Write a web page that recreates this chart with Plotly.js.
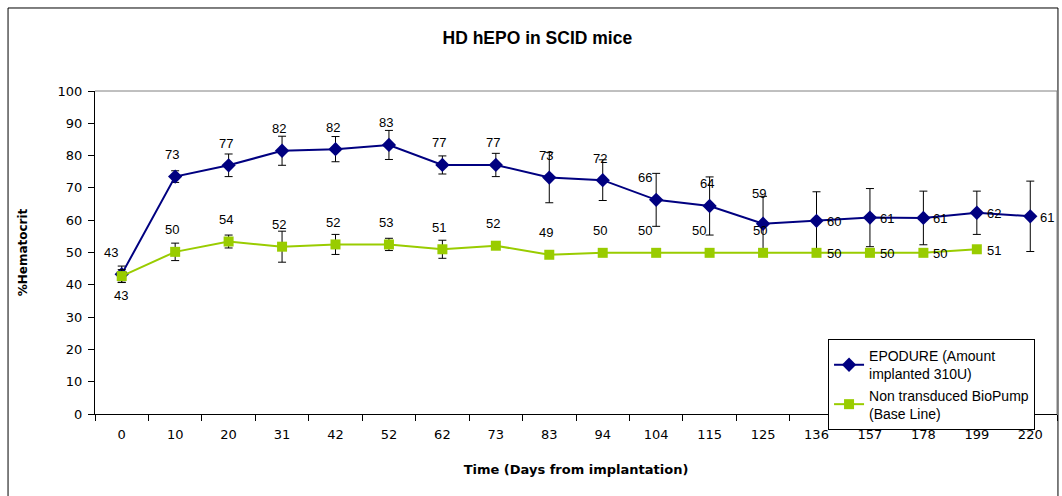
<!DOCTYPE html>
<html>
<head>
<meta charset="utf-8">
<script src="https://cdn.plot.ly/plotly-3.0.1.min.js"></script>
<style>
  html, body { margin: 0; padding: 0; background: #fff; }
  #chart { width: 1062px; height: 496px; }
</style>
</head>
<body>
<div id="chart"></div>
<script>
// ---- data ----
const days = ['0','10','20','31','42','52','62','73','83','94','104','115','125','136','157','178','199','220'];

const epodure = [43.3, 73.5, 77.0, 81.5, 82.0, 83.3, 77.1, 77.1, 73.2, 72.4, 66.3, 64.4, 58.9, 59.8, 60.8, 60.7, 62.3, 61.2];
const epodureErr = [2.5, 1.8, 3.5, 4.5, 3.9, 4.5, 2.8, 3.6, 7.8, 6.3, 8.2, 9.0, 8.5, 9.0, 9.0, 8.3, 6.7, 10.9];
const epodureLabels = ['43','73','77','82','82','83','77','77','73','72','66','64','59','60','61','61','62','61'];

const baseline = [42.7, 50.2, 53.4, 51.8, 52.5, 52.5, 51.0, 52.1, 49.3, 49.9, 49.9, 49.9, 49.9, 49.9, 49.9, 49.9, 51.0, null];
const baselineErr = [2.0, 2.7, 2.0, 4.8, 3.1, 1.9, 2.8, 0, 0, 0, 0, 0, 0, 0, 0, 0, 0, 0];
const baselineLabels = ['43','50','54','52','52','53','51','52','49','50','50','50','50','50','50','50','51',''];

const yTicks = [0,10,20,30,40,50,60,70,80,90,100];

// ---- label placement kinds (style) ----
const epodureLabelKind = ['aboveleft','above','above','above','above','above','above','above','above','above','aboveleft','above','abovehigh','right','right','right','right','right'];
const baselineLabelKind = ['below','above','above','above','above','above','above','above','above','above','aboveleft','aboveleft','above','right','right','right','right','none'];

const FONT = 'Liberation Sans, Arial, sans-serif';
const WIDE = 'DejaVu Sans, Verdana, sans-serif';
const shifts = {
  above:     {xshift: -3,  yshift: 22, xanchor: 'center', yanchor: 'middle'},
  abovehigh: {xshift: -4,  yshift: 30, xanchor: 'center', yanchor: 'middle'},
  aboveleft: {xshift: -11, yshift: 22, xanchor: 'center', yanchor: 'middle'},
  below:     {xshift: -1,  yshift: -19, xanchor: 'center', yanchor: 'middle'},
  right:     {xshift: 8,   yshift: -1, xanchor: 'left', yanchor: 'middle'}
};

function makeLabels(vals, labels, kinds) {
  const out = [];
  vals.forEach((v, i) => {
    if (v === null || kinds[i] === 'none' || !labels[i]) return;
    const s = shifts[kinds[i]];
    out.push({
      x: i, y: v, xref: 'x', yref: 'y',
      text: labels[i], showarrow: false,
      xshift: s.xshift, yshift: s.yshift, xanchor: s.xanchor, yanchor: s.yanchor,
      font: {family: FONT, size: 13, color: '#000'}
    });
  });
  return out;
}

const traces = [
  {
    name: 'EPODURE (Amount<br>implanted 310U)',
    x: days, y: epodure, type: 'scatter', mode: 'lines+markers',
    line: {color: '#000080', width: 2},
    marker: {symbol: 'diamond', size: 11, color: '#000080'},
    error_y: {type: 'data', array: epodureErr, visible: true, color: '#000', thickness: 1, width: 4}
  },
  {
    name: 'Non transduced BioPump<br>(Base Line)',
    x: days, y: baseline, type: 'scatter', mode: 'lines+markers',
    line: {color: '#99CC00', width: 2},
    marker: {symbol: 'square', size: 10, color: '#99CC00'},
    error_y: {type: 'data', array: baselineErr, visible: true, color: '#000', thickness: 1, width: 4}
  }
];

const layout = {
  width: 1062, height: 496,
  margin: {l: 95, r: 5, t: 91, b: 82},
  paper_bgcolor: '#fff', plot_bgcolor: '#fff',
  font: {family: FONT, size: 12, color: '#000'},
  title: {
    text: '<b>HD hEPO in SCID mice</b>',
    font: {family: FONT, size: 17.5, color: '#000'},
    x: 0.506, xref: 'container', y: 0.923, yref: 'container', yanchor: 'middle'
  },
  xaxis: {
    type: 'category', range: [-0.5, 17.5],
    tickson: 'boundaries', ticks: 'outside', ticklen: 6, tickcolor: '#000',
    showline: true, linecolor: '#000', linewidth: 1,
    showgrid: false, zeroline: false,
    ticklabelstandoff: 8,
    tickfont: {family: WIDE, size: 13, color: '#000'},
    title: {text: '<b>Time (Days from implantation)</b>', font: {family: WIDE, size: 13, color: '#000'}, standoff: 24}
  },
  yaxis: {
    range: [0, 100], tickvals: yTicks, ticks: 'outside', ticklen: 6, tickcolor: '#000',
    showline: true, linecolor: '#000', linewidth: 1,
    showgrid: false, zeroline: false,
    ticklabelstandoff: 3,
    tickfont: {family: WIDE, size: 13, color: '#000'},
    title: {text: '<b>%Hematocrit</b>', font: {family: WIDE, size: 12, color: '#000'}, standoff: 27}
  },
  showlegend: true,
  legend: {
    x: 0.762, y: 0.232, xanchor: 'left', yanchor: 'top',
    bgcolor: '#fff', bordercolor: '#000', borderwidth: 1,
    font: {family: FONT, size: 14, color: '#000'},
    tracegroupgap: 0, itemwidth: 30
  },
  shapes: [
    // outer chart frame
    {type: 'rect', xref: 'paper', yref: 'paper', x0: -0.0904, x1: 1.001, y0: -0.3, y1: 1.257,
     line: {color: '#000', width: 1}, fillcolor: 'rgba(0,0,0,0)', layer: 'below'},
    // plot-area border (top & right)
    {type: 'line', xref: 'paper', yref: 'paper', x0: 0, x1: 1, y0: 1, y1: 1, line: {color: '#808080', width: 1}},
    {type: 'line', xref: 'paper', yref: 'paper', x0: 1, x1: 1, y0: 0, y1: 1, line: {color: '#808080', width: 1}}
  ],
  annotations: [].concat(
    makeLabels(epodure, epodureLabels, epodureLabelKind),
    makeLabels(baseline, baselineLabels, baselineLabelKind)
  )
};

Plotly.newPlot('chart', traces, layout, {displayModeBar: false, staticPlot: true});
</script>
</body>
</html>
